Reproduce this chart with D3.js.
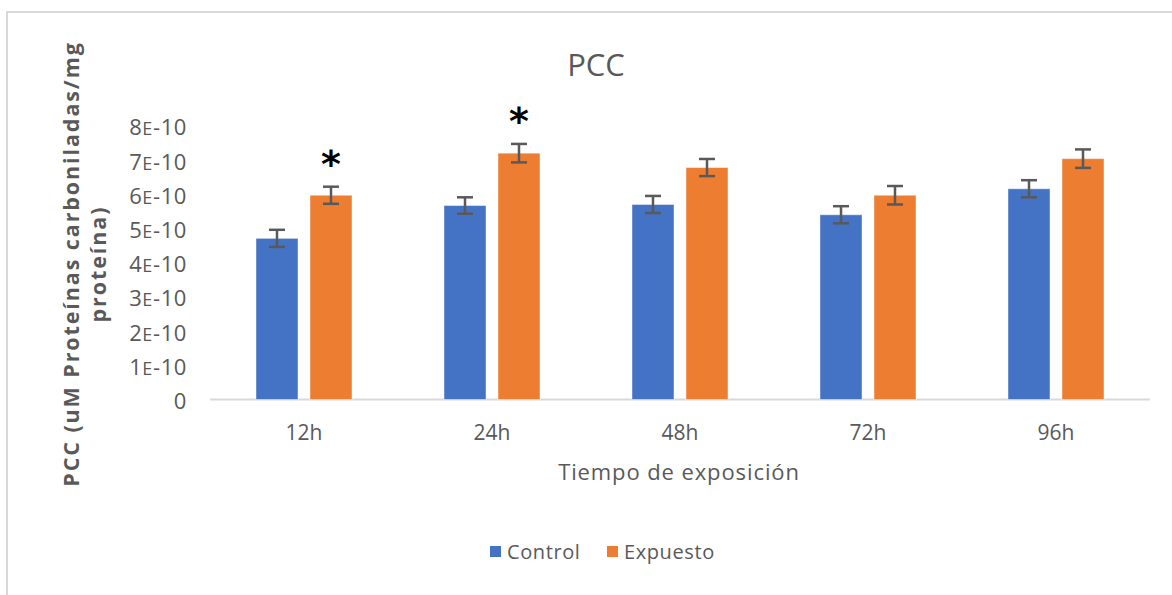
<!DOCTYPE html>
<html>
<head>
<meta charset="utf-8">
<script src="https://cdn.jsdelivr.net/npm/d3@7"></script>
<style>
  html, body { margin: 0; padding: 0; background: #fff; }
  svg { display: block; font-family: "Open Sans", "DejaVu Sans", sans-serif; }
</style>
</head>
<body>
<svg id="chart" width="1172" height="595"></svg>
<script>
// Carbonylated protein content by exposure time
const categories = ["12h", "24h", "48h", "72h", "96h"];
const seriesNames = ["Control", "Expuesto"];
const controlValues = [4.71e-10, 5.67e-10, 5.70e-10, 5.40e-10, 6.16e-10];
const expuestoValues = [5.97e-10, 7.20e-10, 6.78e-10, 5.97e-10, 7.04e-10];
const controlErrors = [0.25e-10, 0.24e-10, 0.25e-10, 0.25e-10, 0.25e-10];
const expuestoErrors = [0.25e-10, 0.27e-10, 0.25e-10, 0.27e-10, 0.27e-10];
const expuestoMarks = ["*", "*", "", "", ""];
const tickValues = [0, 1e-10, 2e-10, 3e-10, 4e-10, 5e-10, 6e-10, 7e-10, 8e-10];
const tickLabels = ["0", "1E-10", "2E-10", "3E-10", "4E-10", "5E-10", "6E-10", "7E-10", "8E-10"];
const seriesColors = ["#4472C4", "#ED7D31"];

const svg = d3.select("#chart");
const textColor = "#595959";

// outer frame
svg.append("path")
  .attr("d", "M7,595 L7,12 L1172,12")
  .attr("fill", "none")
  .attr("stroke", "#d9d9d9")
  .attr("stroke-width", 2);

const x0 = d3.scaleBand().domain(categories).range([210, 1150]);
const groupWidth = 96;
const x1 = d3.scaleBand().domain(seriesNames).range([0, groupWidth]).paddingInner(0.222);
const y = d3.scaleLinear().domain([0, 8e-10]).range([399.5, 125.8]);

const rows = categories.map((c, i) => ({
  cat: c,
  items: [
    { s: seriesNames[0], v: controlValues[i], e: controlErrors[i], mark: "" },
    { s: seriesNames[1], v: expuestoValues[i], e: expuestoErrors[i], mark: expuestoMarks[i] }
  ]
}));

// y axis labels
const yAxis = d3.axisLeft(y).tickValues(tickValues).tickSize(0).tickPadding(0)
  .tickFormat((d, i) => tickLabels[i]);
const yg = svg.append("g").attr("transform", "translate(187,2)").call(yAxis);
yg.select(".domain").remove();
yg.selectAll("text")
  .attr("fill", textColor)
  .attr("font-size", 22)
  .attr("font-family", "'Open Sans', sans-serif")
  .attr("letter-spacing", 0.6)
  .each(function(d, i) {
    const label = tickLabels[i];
    const t = d3.select(this);
    t.text(null);
    const m = label.match(/^(\d+)E(.*)$/);
    if (m) {
      t.append("tspan").text(m[1]);
      t.append("tspan").attr("font-size", 18).text("E");
      t.append("tspan").text(m[2]);
    } else {
      t.text(label);
    }
  });

// baseline
svg.append("line")
  .attr("x1", 210).attr("x2", 1150)
  .attr("y1", y(0)).attr("y2", y(0))
  .attr("stroke", "#d9d9d9").attr("stroke-width", 2);

const offset = (x0.bandwidth() - groupWidth) / 2;
const groups = svg.append("g").selectAll("g").data(rows).join("g")
  .attr("transform", d => `translate(${x0(d.cat) + offset},0)`);

groups.selectAll("rect").data(d => d.items).join("rect")
  .attr("x", d => x1(d.s))
  .attr("y", d => y(d.v))
  .attr("width", x1.bandwidth())
  .attr("height", d => y(0) - y(d.v))
  .attr("fill", (d, i) => seriesColors[i])
  .attr("stroke", "rgba(255,255,255,0.45)")
  .attr("stroke-width", 1);

// error bars
const errG = groups.selectAll("g.err").data(d => d.items).join("g").attr("class", "err")
  .attr("stroke", "#595959").attr("stroke-width", 2.5);
errG.append("line")
  .attr("x1", d => x1(d.s) + x1.bandwidth() / 2)
  .attr("x2", d => x1(d.s) + x1.bandwidth() / 2)
  .attr("y1", d => y(d.v + d.e)).attr("y2", d => y(d.v - d.e));
errG.append("line")
  .attr("x1", d => x1(d.s) + x1.bandwidth() / 2 - 8)
  .attr("x2", d => x1(d.s) + x1.bandwidth() / 2 + 8)
  .attr("y1", d => y(d.v + d.e)).attr("y2", d => y(d.v + d.e));
errG.append("line")
  .attr("x1", d => x1(d.s) + x1.bandwidth() / 2 - 8)
  .attr("x2", d => x1(d.s) + x1.bandwidth() / 2 + 8)
  .attr("y1", d => y(d.v - d.e)).attr("y2", d => y(d.v - d.e));

// significance markers
groups.selectAll("text.mark").data(d => d.items.filter(it => it.mark)).join("text")
  .attr("class", "mark")
  .attr("x", d => x1(d.s) + x1.bandwidth() / 2)
  .attr("y", d => y(d.v + d.e) - 10)
  .attr("text-anchor", "middle")
  .attr("font-size", 38)
  .attr("font-weight", "bold")
  .attr("font-family", "'DejaVu Sans', sans-serif")
  .attr("fill", "#000")
  .text(d => d.mark);

// x axis labels
svg.append("g").selectAll("text").data(categories).join("text")
  .attr("x", d => x0(d) + x0.bandwidth() / 2)
  .attr("y", 440)
  .attr("text-anchor", "middle")
  .attr("font-size", 21)
  .attr("fill", textColor)
  .text(d => d);

// title
svg.append("text")
  .attr("x", 596).attr("y", 76)
  .attr("text-anchor", "middle")
  .attr("font-size", 31)
  .attr("fill", textColor)
  .text("PCC");

// x axis title
svg.append("text")
  .attr("x", 679).attr("y", 480)
  .attr("text-anchor", "middle")
  .attr("font-size", 22)
  .attr("letter-spacing", 0.9)
  .attr("fill", textColor)
  .text("Tiempo de exposición");

// y axis title (two lines)
const yTitle = svg.append("text")
  .attr("transform", "translate(0,264) rotate(-90)")
  .attr("text-anchor", "middle")
  .attr("font-size", 21.5)
  .attr("font-weight", "bold")
  .attr("letter-spacing", 1.9)
  .attr("fill", textColor);
yTitle.append("tspan").attr("x", 0).attr("y", 79).text("PCC (uM Proteínas carboniladas/mg");
yTitle.append("tspan").attr("x", 0).attr("y", 106).text("proteína)");

// legend
const legend = svg.append("g").selectAll("g").data(seriesNames).join("g")
  .attr("transform", (d, i) => `translate(${i === 0 ? 490 : 607},546)`);
legend.append("rect")
  .attr("width", 11).attr("height", 11)
  .attr("fill", (d, i) => seriesColors[i]);
legend.append("text")
  .attr("x", 17).attr("y", 13)
  .attr("font-size", 20)
  .attr("letter-spacing", 0.6)
  .attr("fill", textColor)
  .text(d => d);
</script>
</body>
</html>
